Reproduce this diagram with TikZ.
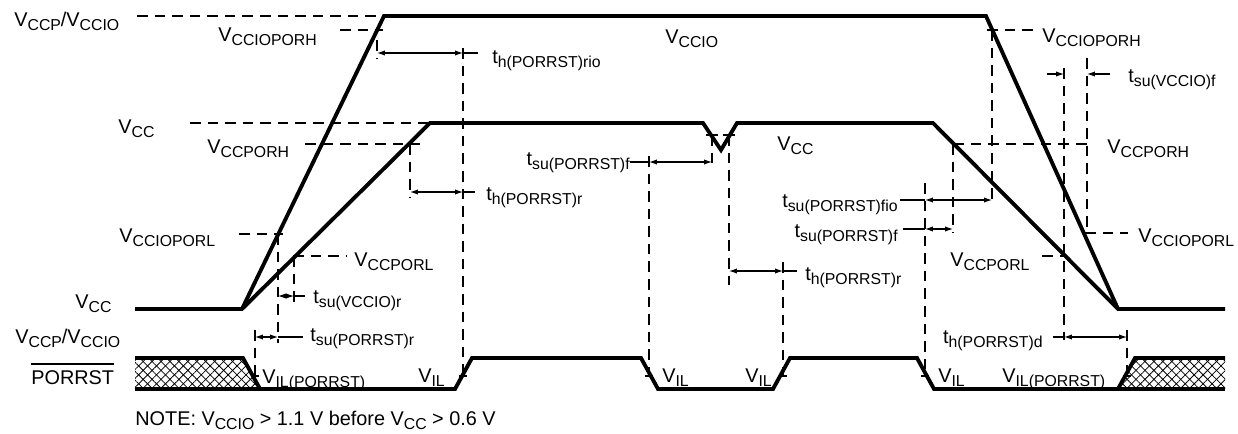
\documentclass[tikz,border=0pt]{standalone}
\usepackage{fontspec}
\setmainfont{Liberation Sans}
\usetikzlibrary{arrows.meta, patterns.meta}
\newcommand{\sbs}[1]{\raisebox{-2.8pt}{\fontsize{9}{10}\selectfont #1}}
\tikzset{
  wave/.style={line width=2.2pt},
  level/.style={line width=0.6pt, dash pattern=on 6pt off 4pt},
  ext/.style={line width=0.6pt},
  span/.style={line width=0.6pt, {Latex[length=4.5pt,width=3pt]}-{Latex[length=4.5pt,width=3pt]}},
  lbl/.style={anchor=base west, inner sep=0pt},
  hatchne/.style={pattern={Lines[angle=45,distance=3.6pt,line width=0.45pt]}},
  hatchnw/.style={pattern={Lines[angle=-45,distance=3.6pt,line width=0.45pt]}},
}

\begin{document}
\begin{tikzpicture}[x=0.02cm, y=-0.02cm, font=\fontsize{11.3}{13}\selectfont]
\useasboundingbox (0,0) rectangle (1238,433);
\fill[white] (0,0) rectangle (1238,433);

% Supply waveforms
\draw[wave] (135,309) -- (242,309) -- (430,123) -- (703,123) -- (721,150) -- (737,123)
  -- (933,123) -- (1118,309) -- (1225,309);
\draw[wave] (242,309) -- (384,16) -- (986,16) -- (1118,309);

% PORRST, with unknown state hatched
\fill[hatchne] (135,358) -- (243,358) -- (260,389) -- (135,389) -- cycle;
\fill[hatchnw] (135,358) -- (243,358) -- (260,389) -- (135,389) -- cycle;
\fill[hatchne] (1118,389) -- (1135,358) -- (1225,358) -- (1225,389) -- cycle;
\fill[hatchnw] (1118,389) -- (1135,358) -- (1225,358) -- (1225,389) -- cycle;
\draw[wave] (135,358) -- (243,358) -- (260,389) -- (455,389) -- (472,358) -- (641,358)
  -- (658,389) -- (773,389) -- (790,358) -- (917,358) -- (934,389) -- (1118,389)
  -- (1135,358) -- (1225,358);
\draw[wave] (135,389) -- (260,389);
\draw[wave] (1118,389) -- (1225,389);

% Threshold levels
\draw[level] (137,16) -- (384,16);
\draw[level] (340,30) -- (383,30);
\draw[level] (190,123) -- (430,123);
\draw[level] (305,144) -- (420,144);
\draw[level] (239,234) -- (283,234);
\draw[level] (293,256) -- (347,256);
\draw[level] (987,30) -- (1033,30);
\draw[level] (953,144) -- (1093,144);
\draw[level] (1085,233) -- (1128,233);
\draw[level] (1042,256) -- (1067,256);

% Timing references
\draw[level] (377,40) -- (377,58);
\draw[level] (463,48) -- (463,376);
\draw[level] (410,144) -- (410,198);
\draw[level] (278,234) -- (278,343);
\draw[level] (294,256) -- (294,307);
\draw[level] (255,330) -- (255,378);
\draw[level] (649,156) -- (649,376);
\draw[level] (712,135) -- (712,165);
\draw[level] (729,135) -- (729,285);
\draw[level] (783,262) -- (783,376);
\draw[level] (992,30) -- (992,205);
\draw[level] (925,183) -- (925,376);
\draw[level] (953,144) -- (953,232);
\draw[level] (1064,68) -- (1064,340);
\draw[level] (1087,58) -- (1087,233);
\draw[level] (1127,330) -- (1127,376);
\draw[ext] (706,135) -- (718,135);
\draw[ext] (723,135) -- (735,135);
\foreach \x in {255,463,649,783,925,1127}
  \draw[ext] (\x-4,376) -- (\x+4,376);

% Timing spans
\draw[span] (377,53) -- (463,53);
\draw[ext] (463,53) -- (478,53);
\draw[span] (410,192) -- (463,192);
\draw[ext] (463,192) -- (475,192);
\draw[span] (278,296) -- (294,296);
\draw[ext] (294,296) -- (305,296);
\draw[span] (255,337) -- (278,337);
\draw[ext] (278,337) -- (303,337);
\draw[span] (649,162) -- (712,162);
\draw[ext] (630,162) -- (649,162);
\draw[span] (729,271) -- (783,271);
\draw[ext] (783,271) -- (797,271);
\draw[span] (925,200) -- (992,200);
\draw[ext] (900,200) -- (925,200);
\draw[span] (925,229) -- (953,229);
\draw[ext] (903,229) -- (925,229);
\draw[ext, -{Latex[length=4.5pt,width=3pt]}] (1047,74) -- (1064,74);
\draw[ext, -{Latex[length=4.5pt,width=3pt]}] (1110,74) -- (1087,74);
\draw[span] (1064,337) -- (1127,337);
\draw[ext] (1053,337) -- (1064,337);

% Labels
\node[lbl] (vtop) at (14,26) {V\sbs{CCP}/V\sbs{CCIO}};
\node[lbl] (vciohl) at (218,41) {V\sbs{CCIOPORH}};
\node[lbl] (vcio) at (665,43) {V\sbs{CCIO}};
\node[lbl] (thrio) at (492,63) {t\sbs{h(PORRST)rio}};
\node[lbl] (vccl) at (118,133) {V\sbs{CC}};
\node[lbl] (vcchl) at (207,153) {V\sbs{CCPORH}};
\node[lbl] (vcciol) at (119,242) {V\sbs{CCIOPORL}};
\node[lbl] (vccll) at (354,266) {V\sbs{CCPORL}};
\node[lbl] (thrl) at (486,200) {t\sbs{h(PORRST)r}};
\node[lbl, anchor=base east] (tsufm) at (630,165) {t\sbs{su(PORRST)f}};
\node[lbl] (vccm) at (777,150) {V\sbs{CC}};
\node[lbl, anchor=base east] (tsufio) at (898,207) {t\sbs{su(PORRST)fio}};
\node[lbl, anchor=base east] (tsufr) at (898,237) {t\sbs{su(PORRST)f}};
\node[lbl] (thrr) at (805,280) {t\sbs{h(PORRST)r}};
\node[lbl] (vciohr) at (1042,42) {V\sbs{CCIOPORH}};
\node[lbl] (tsuvf) at (1128,82) {t\sbs{su(VCCIO)f}};
\node[lbl] (vcchr) at (1107,153) {V\sbs{CCPORH}};
\node[lbl] (vccior) at (1138,242) {V\sbs{CCIOPORL}};
\node[lbl] (vcclr) at (950,266) {V\sbs{CCPORL}};
\node[lbl] (vccb) at (75,308) {V\sbs{CC}};
\node[lbl] (tsuvr) at (313,303) {t\sbs{su(VCCIO)r}};
\node[lbl] (vbot) at (15,343) {V\sbs{CCP}/V\sbs{CCIO}};
\node[lbl] (tsupr) at (310,341) {t\sbs{su(PORRST)r}};
\node[lbl] (porrst) at (31,384) {PORRST};
\draw[ext] (porrst.west |- {(0,364)}) -- (porrst.east |- {(0,364)});
\node[lbl] (vilpl) at (262,383) {V\sbs{IL(PORRST)}};
\node[lbl] (vila) at (418,382) {V\sbs{IL}};
\node[lbl] (vilb) at (662,382) {V\sbs{IL}};
\node[lbl] (vilc) at (745,382) {V\sbs{IL}};
\node[lbl] (vild) at (938,382) {V\sbs{IL}};
\node[lbl] (vilpr) at (1002,382) {V\sbs{IL(PORRST)}};
\node[lbl, anchor=base east] (thd) at (1043,343) {t\sbs{h(PORRST)d}};
\node[lbl] (note) at (135,425) {NOTE: V\sbs{CCIO} > 1.1 V before V\sbs{CC} > 0.6 V};
\end{tikzpicture}
\end{document}
